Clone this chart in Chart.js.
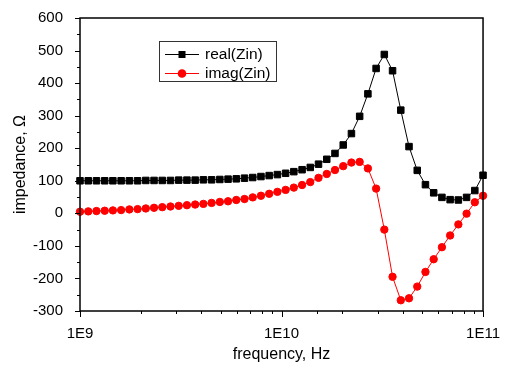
<!DOCTYPE html>
<html>
<head>
<meta charset="utf-8">
<script src="https://cdn.jsdelivr.net/npm/chart.js@4.4.0/dist/chart.umd.min.js"></script>
<style>
  html, body { margin: 0; padding: 0; background: #fff; }
  #wrap { width: 506px; height: 366px; }
</style>
</head>
<body>
<div id="wrap"><canvas id="zinChart"></canvas></div>
<script>
// frequency points in GHz (log spaced, 1 GHz .. 100 GHz)
const freqGHz = [
  1.000, 1.099, 1.207, 1.326, 1.456, 1.600, 1.758, 1.931, 2.121, 2.330,
  2.560, 2.812, 3.089, 3.393, 3.728, 4.095, 4.498, 4.942, 5.429, 5.964,
  6.551, 7.197, 7.906, 8.685, 9.541, 10.48, 11.51, 12.65, 13.89, 15.26,
  16.77, 18.42, 20.24, 22.23, 24.42, 26.83, 29.47, 32.37, 35.56, 39.07,
  42.92, 47.15, 51.79, 56.90, 62.51, 68.66, 75.43, 82.86, 91.03, 100.0
];

const realZin = [
  100, 100, 100, 100, 100, 100, 100, 100, 101, 101,
  101, 101, 102, 102, 102, 103, 103, 104, 105, 106,
  108, 110, 113, 116, 119, 123, 128, 134, 141, 151,
  166, 184, 210, 245, 298, 367, 445, 488, 438, 317,
  205, 132, 88, 63, 49, 42, 41, 49, 70, 117
];

const imagZin = [
  5, 6, 7, 8, 9, 10, 12, 13, 15, 17,
  19, 21, 23, 25, 27, 29, 32, 35, 37, 41,
  44, 49, 54, 60, 66, 72, 79, 87, 96, 109,
  121, 133, 145, 156, 158, 138, 76, -50, -195, -267,
  -261, -225, -180, -141, -104, -68, -34, -1, 34, 54
];

const seriesLabels = ["real(Zin)", "imag(Zin)"];
const yMin = -300, yMax = 600, yStep = 100;
const xMin = 1e9, xMax = 1e11;

const toPoints = (vals) => vals.map((v, i) => ({ x: freqGHz[i] * 1e9, y: v }));

const FONT = "'Liberation Sans', Arial, sans-serif";

// tick marks (major + minor), frame and the boxed legend
const framePlugin = {
  id: "framePlugin",
  afterDatasetsDraw(chart) {
    const { ctx, chartArea: a, scales } = chart;
    const x = scales.x, y = scales.y;
    ctx.save();
    ctx.strokeStyle = "#000";
    ctx.lineWidth = 1;

    // y ticks: every 50, long at the hundreds
    for (let v = yMin; v <= yMax; v += yStep / 2) {
      const py = Math.round(y.getPixelForValue(v)) + 0.5;
      const len = v % yStep === 0 ? 5 : 3;
      ctx.beginPath();
      ctx.moveTo(a.left - len, py);
      ctx.lineTo(a.left, py);
      ctx.stroke();
    }

    // x ticks from the log scale
    x.ticks.forEach((t) => {
      const e = Math.log10(t.value);
      const major = Math.abs(e - Math.round(e)) < 1e-6;
      const px = Math.round(x.getPixelForValue(t.value)) + 0.5;
      const len = major ? 6 : 3;
      ctx.beginPath();
      ctx.moveTo(px, a.bottom);
      ctx.lineTo(px, a.bottom + len);
      ctx.stroke();
    });

    // frame
    ctx.lineWidth = 1.5;
    ctx.strokeRect(a.left, a.top, a.right - a.left, a.bottom - a.top);

    // legend box
    const bx = 159.5, by = 41.5, bw = 117, bh = 40;
    ctx.lineWidth = 1;
    ctx.strokeStyle = "#333";
    ctx.fillStyle = "#fff";
    ctx.fillRect(bx, by, bw, bh);
    ctx.strokeRect(bx, by, bw, bh);

    const rows = [
      { y: 54, color: "#000", shape: "rect" },
      { y: 73, color: "#ff0000", shape: "circle" },
    ];
    rows.forEach((r, i) => {
      ctx.strokeStyle = r.color;
      ctx.fillStyle = r.color;
      ctx.lineWidth = 1;
      ctx.beginPath();
      ctx.moveTo(165, r.y + 0.5);
      ctx.lineTo(199, r.y + 0.5);
      ctx.stroke();
      if (r.shape === "rect") {
        ctx.fillRect(178.5, r.y - 3, 7, 7);
      } else {
        ctx.beginPath();
        ctx.arc(182, r.y + 0.5, 4.3, 0, Math.PI * 2);
        ctx.fill();
      }
      ctx.fillStyle = "#000";
      ctx.font = "15.5px " + FONT;
      ctx.textBaseline = "middle";
      ctx.textAlign = "left";
      ctx.fillText(seriesLabels[i], 205, r.y + 1);
    });
    ctx.restore();
  },
};

const ctx = document.getElementById("zinChart").getContext("2d");
new Chart(ctx, {
  type: "line",
  data: {
    datasets: [
      {
        label: seriesLabels[0],
        data: toPoints(realZin),
        borderColor: "#000",
        backgroundColor: "#000",
        borderWidth: 1,
        pointStyle: "rect",
        pointRadius: 4.6,
        pointBorderWidth: 1,
        tension: 0,
        clip: false,
      },
      {
        label: seriesLabels[1],
        data: toPoints(imagZin),
        borderColor: "#ff0000",
        backgroundColor: "#ff0000",
        borderWidth: 1,
        pointStyle: "circle",
        pointRadius: 3.7,
        pointBorderWidth: 1,
        tension: 0,
        clip: false,
      },
    ],
  },
  options: {
    responsive: true,
    maintainAspectRatio: false,
    animation: false,
    layout: { padding: { left: 0, top: 12, right: 22, bottom: 0 } },
    scales: {
      x: {
        type: "logarithmic",
        min: xMin,
        max: xMax,
        grid: { display: false },
        border: { display: false },
        afterFit: (s) => { s.height = 55; },
        ticks: {
          autoSkip: false,
          maxRotation: 0,
          padding: 6,
          color: "#000",
          font: { family: FONT, size: 15 },
          callback: (value) => {
            const e = Math.log10(value);
            return Math.abs(e - Math.round(e)) < 1e-6 ? "1E" + Math.round(e) : "";
          },
        },
        title: {
          display: true,
          text: "frequency, Hz",
          color: "#000",
          font: { family: FONT, size: 16 },
          padding: { top: 0, bottom: 2 },
        },
      },
      y: {
        min: yMin,
        max: yMax,
        grid: { display: false },
        border: { display: false },
        afterFit: (s) => { s.width = 80; },
        ticks: {
          stepSize: yStep,
          padding: 9,
          color: "#000",
          font: { family: FONT, size: 15 },
        },
        title: {
          display: true,
          text: "impedance, Ω",
          color: "#000",
          font: { family: FONT, size: 16 },
          padding: { top: 11, bottom: 0 },
        },
      },
    },
    plugins: {
      legend: { display: false },
      tooltip: { enabled: false },
    },
  },
  plugins: [framePlugin],
});
</script>
</body>
</html>
